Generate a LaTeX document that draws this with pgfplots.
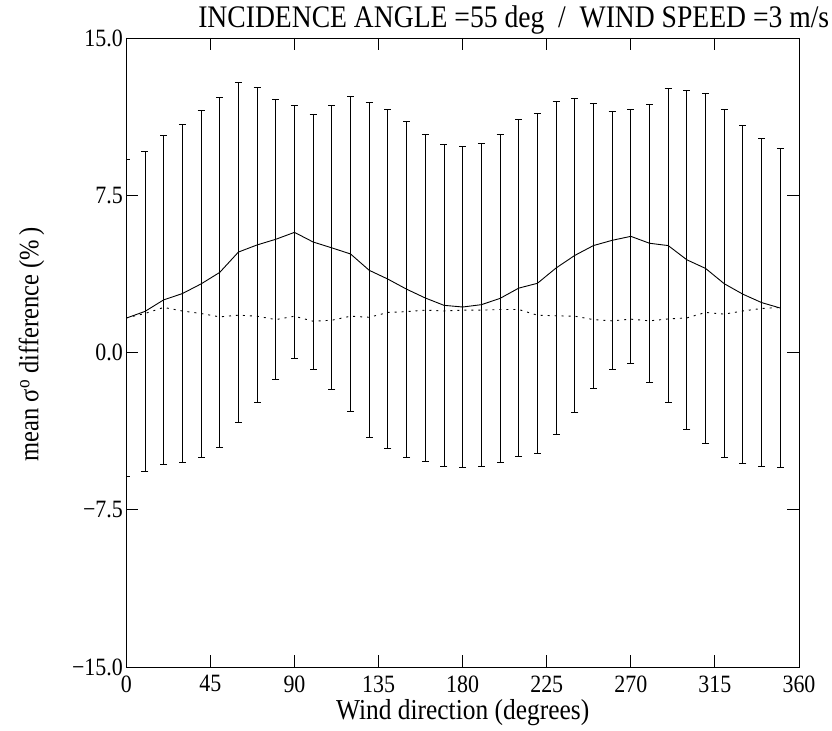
\documentclass[border=0pt]{standalone}
\usepackage{fontspec}
\setmainfont[FakeStretch=0.88]{Liberation Serif}
\usepackage{pgfplots}
\usepackage{pgfplotstable}
\pgfplotsset{compat=1.18}
\pgfplotstableread{
x y err d
0 1.64 7.565 1.65
10 1.96 7.65 1.86
20 2.51 7.84 2.15
30 2.81 8.065 1.98
40 3.27 8.255 1.86
50 3.82 8.34 1.70
60 4.79 8.105 1.78
70 5.13 7.495 1.73
80 5.40 6.685 1.57
90 5.73 6.03 1.73
100 5.27 6.08 1.49
110 4.99 6.77 1.54
120 4.70 7.525 1.73
130 3.92 7.985 1.68
140 3.50 8.095 1.91
150 3.02 8.005 1.95
160 2.60 7.815 2.02
170 2.25 7.685 1.98
180 2.17 7.635 2.02
190 2.28 7.695 2.02
200 2.58 7.825 2.05
210 3.07 8.045 2.05
220 3.30 8.10 1.78
230 4.03 7.94 1.75
240 4.63 7.51 1.73
250 5.10 6.795 1.57
260 5.35 6.145 1.51
270 5.54 6.05 1.59
280 5.21 6.635 1.51
290 5.10 7.50 1.60
300 4.42 8.09 1.65
310 4.01 8.34 1.91
320 3.28 8.29 1.83
330 2.78 8.06 1.98
340 2.38 7.82 2.10
350 2.12 7.62 2.15
}\data
\begin{document}
\begin{tikzpicture}
\useasboundingbox (-126.3bp,-64bp) rectangle (705.7bp,667bp);
\begin{axis}[
  scale only axis,
  width=672.7bp, height=629bp,
  xmin=0, xmax=360, ymin=-15, ymax=15,
  xtick={0,45,...,360},
  ytick={-15,-7.5,0,7.5,15},
  yticklabels={−15.0,−7.5,0.0,7.5,15.0},
  tick align=inside,
  major tick length=12bp,
  axis line style={line width=0.9pt},
  tick style={line width=0.9pt, black},
  ticklabel style={font=\fontsize{25}{28}\selectfont},
  xticklabel style={yshift=-5bp},
  /pgf/number format/assume math mode=true,
  title={INCIDENCE ANGLE =55 deg\ \ /\ \ WIND SPEED =3 m/s},
  title style={font=\fontsize{31.5}{34}\selectfont, at={(axis description cs:0.576,1)}, anchor=base, yshift=5bp},
  xlabel={Wind direction (degrees)},
  xlabel style={font=\fontsize{29}{32}\selectfont, at={(axis description cs:0.5,-0.073)}, anchor=center},
  ylabel={mean σ\textsuperscript{o} difference (\%\,)},
  ylabel style={font=\fontsize{28}{31}\selectfont, at={(axis description cs:-0.141,0.513)}, anchor=center},
]
\addplot[black, line width=0.9pt, no marks,
  error bars/.cd, y dir=both, y explicit,
  error bar style={line width=0.9pt},
  error mark options={rotate=90, mark size=3.5bp, line width=0.9pt}]
  table[x=x, y=y, y error=err] {\data};
\addplot[black, line width=0.9pt, no marks, dash pattern=on 2bp off 5bp] table[x=x, y=d] {\data};
\end{axis}
\end{tikzpicture}
\end{document}
